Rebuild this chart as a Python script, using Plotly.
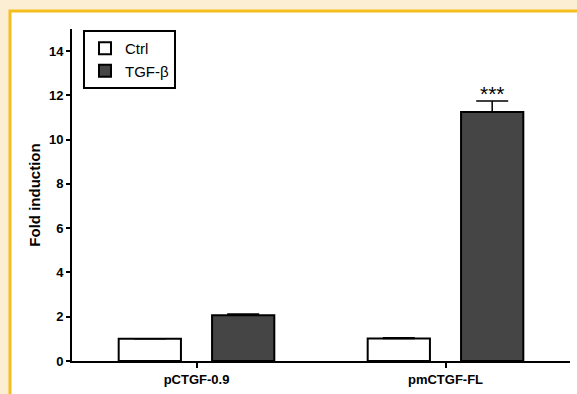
import plotly.graph_objects as go

categories = ["pCTGF-0.9", "pmCTGF-FL"]
ctrl_values = [1.0, 1.02]
ctrl_errors = [0.0, 0.03]
tgf_values = [2.07, 11.25]
tgf_errors = [0.05, 0.5]
y_ticks = [0, 2, 4, 6, 8, 10, 12, 14]
significance = ["", "***"]

W, H = 577, 394
L, R, T, B = 72, 7, 29, 33
pw, ph = W - L - R, H - T - B

def px_x(p):
    return (p - L) / pw

def px_y(p):
    return (H - B - p) / ph

BAR_W = 0.25
fig = go.Figure()
fig.add_trace(go.Bar(
    x=categories, y=ctrl_values, name="Ctrl",
    width=BAR_W, offset=-0.3125,
    marker=dict(color="white", line=dict(color="black", width=2)),
    error_y=dict(type="data", array=ctrl_errors, arrayminus=[0] * len(ctrl_errors),
                 symmetric=False, visible=True, color="black",
                 thickness=1.5, width=16),
))
fig.add_trace(go.Bar(
    x=categories, y=tgf_values, name="TGF-β",
    width=BAR_W, offset=0.0625,
    marker=dict(color="#454545", line=dict(color="black", width=2)),
    error_y=dict(type="data", array=tgf_errors, arrayminus=[0] * len(tgf_errors),
                 symmetric=False, visible=True, color="black",
                 thickness=1.5, width=16),
))

for c, v, e, s in zip(categories, tgf_values, tgf_errors, significance):
    if s:
        fig.add_annotation(x=c, y=v + e, text=s, showarrow=False, xshift=46.5,
                           yanchor="bottom", yshift=-6,
                           font=dict(family="Arial", size=21, color="black"))

# cream background with orange-bordered white panel
fig.add_shape(type="rect", xref="paper", yref="paper", layer="below",
              x0=px_x(10), x1=px_x(582), y0=px_y(399), y1=px_y(11),
              fillcolor="white", line=dict(color="#F5BE1F", width=3))

fig.update_layout(
    width=W, height=H,
    margin=dict(l=L, r=R, t=T, b=B, pad=0, autoexpand=False),
    paper_bgcolor="#FCEED3",
    plot_bgcolor="rgba(0,0,0,0)",
    barmode="overlay",
    font=dict(family="Arial", color="black"),
    showlegend=True,
    legend=dict(x=px_x(83), y=px_y(30), xanchor="left", yanchor="top",
                bgcolor="white", bordercolor="black", borderwidth=2,
                font=dict(family="Arial", size=15, color="black"),
                itemwidth=30, tracegroupgap=0),
    xaxis=dict(range=[-0.5, 1.5], showline=True, linecolor="black", linewidth=2,
               ticks="outside", ticklen=5, tickwidth=1.5, tickcolor="black",
               automargin=False,
               tickfont=dict(family="Arial", size=13, color="black", weight="bold"),
               showgrid=False, zeroline=False),
    yaxis=dict(range=[0, 15], tickvals=y_ticks, showline=True, linecolor="black",
               linewidth=2, ticks="outside", ticklen=4, tickwidth=1.5,
               tickcolor="black", showgrid=False, zeroline=False, automargin=False,
               tickfont=dict(family="Arial", size=13, color="black", weight="bold"),
               title=dict(text="Fold induction", standoff=5,
                          font=dict(family="Arial", size=15, color="black", weight="bold"))),
)

fig.write_html("out.html", config={"displayModeBar": False},
               post_script="document.body.style.margin='0';document.body.style.padding='0';document.body.style.overflow='hidden';")
